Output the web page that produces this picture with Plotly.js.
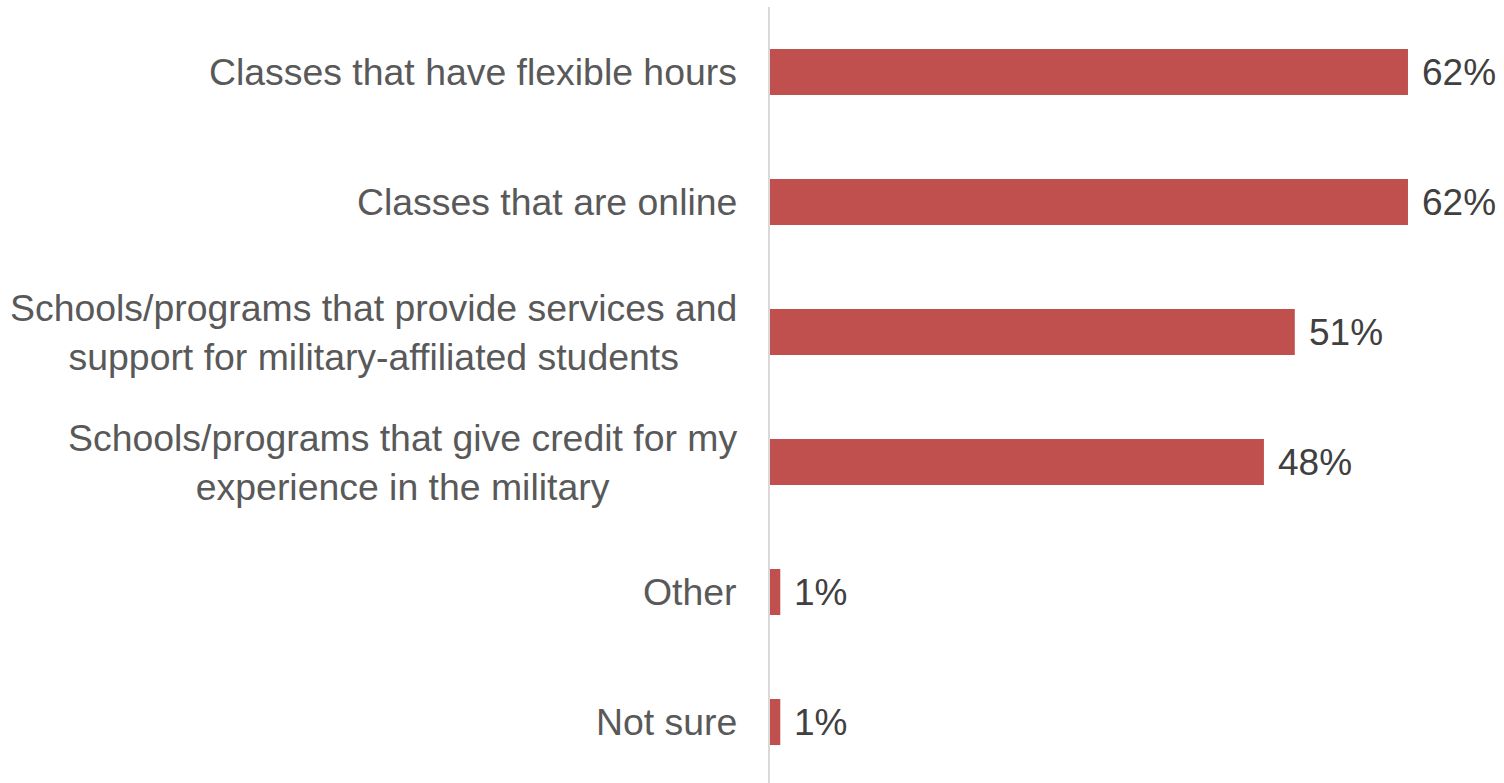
<!DOCTYPE html>
<html>
<head>
<meta charset="utf-8">
<script src="https://cdn.plot.ly/plotly-3.0.1.min.js"></script>
<style>
  html, body { margin: 0; padding: 0; background: #ffffff; }
  #chart { width: 1504px; height: 783px; }
</style>
</head>
<body>
<div id="chart"></div>
<script>
// Survey responses: which school features matter most
const categories = [
  'Classes that have flexible hours',
  'Classes that are online',
  'Schools/programs that provide services and<br>support for military-affiliated students',
  'Schools/programs that give credit for my<br>experience in the military',
  'Other',
  'Not sure'
];
const shares = [62, 62, 51, 48, 1, 1];
const valueLabels = ['62%', '62%', '51%', '48%', '1%', '1%'];

const fontFamily = '"Liberation Sans", Arial, sans-serif';

const bars = {
  type: 'bar',
  orientation: 'h',
  y: categories,
  x: shares,
  width: 0.354,
  marker: { color: '#C0504D', line: { width: 0 } },
  hoverinfo: 'skip'
};

// value labels placed just past the end of each bar
const valueNotes = categories.map((c, i) => ({
  x: shares[i],
  y: c,
  xref: 'x',
  yref: 'y',
  text: valueLabels[i],
  showarrow: false,
  xanchor: 'left',
  yanchor: 'middle',
  xshift: 12,
  font: { family: fontFamily, size: 37, color: '#404040' }
}));

// category names, right-anchored against the axis, wrapped lines centred
const categoryNotes = categories.map(c => ({
  x: 0,
  y: c,
  xref: 'paper',
  yref: 'y',
  text: c,
  showarrow: false,
  xanchor: 'right',
  yanchor: 'middle',
  align: 'center',
  xshift: -31,
  font: { family: fontFamily, size: 37.4, color: '#595959' }
}));

const layout = {
  width: 1504,
  height: 783,
  margin: { l: 770, r: 0, t: 7, b: 0, pad: 0 },
  paper_bgcolor: '#ffffff',
  plot_bgcolor: '#ffffff',
  showlegend: false,
  xaxis: {
    range: [0, 71.33],
    showgrid: false,
    zeroline: false,
    showline: false,
    showticklabels: false,
    ticks: ''
  },
  yaxis: {
    type: 'category',
    categoryorder: 'array',
    categoryarray: categories,
    range: [5.469, -0.5],
    showgrid: false,
    zeroline: false,
    showline: true,
    linecolor: '#D9D9D9',
    linewidth: 2,
    ticks: '',
    showticklabels: false
  },
  annotations: categoryNotes.concat(valueNotes)
};

Plotly.newPlot('chart', [bars], layout, { staticPlot: true, displayModeBar: false });
</script>
</body>
</html>
